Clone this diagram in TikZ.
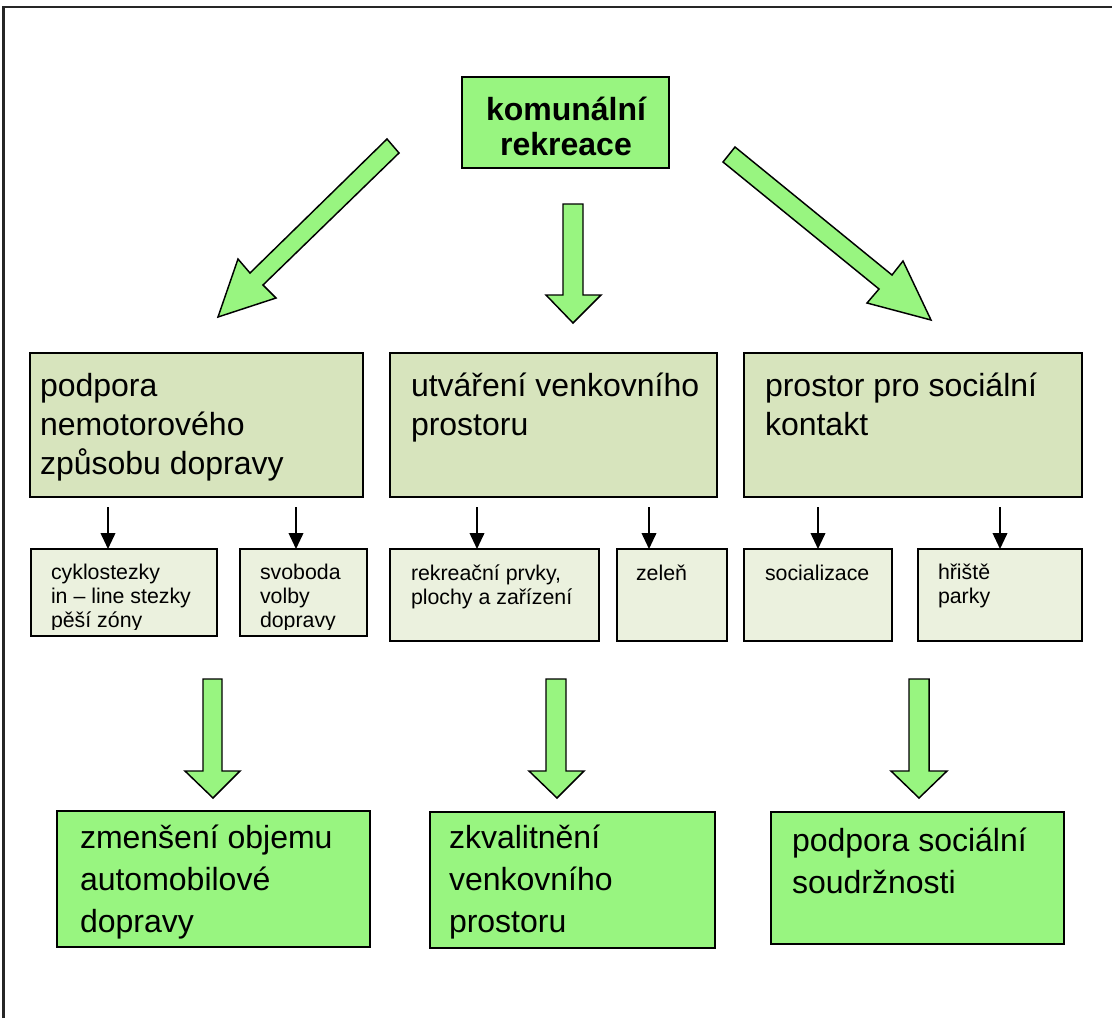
\documentclass[tikz,border=0pt]{standalone}
\usepackage{fontspec}
\setmainfont{Liberation Sans}
\usetikzlibrary{arrows.meta,fit}
\definecolor{gfill}{RGB}{152,245,128}
\definecolor{mfill}{HTML}{D7E4BD}
\definecolor{sfill}{HTML}{EBF1DE}
\tikzset{
  boxbase/.style={draw=black, line width=1.1pt, rectangle, inner sep=0pt, outer sep=0pt},
  gbox/.style={boxbase, fill=gfill},
  mbox/.style={boxbase, fill=mfill},
  sbox/.style={boxbase, fill=sfill},
  txt/.style={anchor=base west, inner sep=0pt, outer sep=0pt},
  bigtxt/.style={txt, font=\fontsize{24}{29.25}\selectfont},
  smalltxt/.style={txt, font=\fontsize{16}{18}\selectfont},
  bottxt/.style={txt, font=\fontsize{24}{31.5}\selectfont},
  sarrow/.style={draw=black, line width=1.3pt, -{Triangle[width=11pt,length=12pt]}},
  barrow/.style={draw=black, line width=1.1pt, fill=gfill, line join=miter},
  frame/.style={draw=black!85, line width=1.6pt}
}
\begin{document}
\begin{tikzpicture}[x=0.75pt,y=-0.75pt]
\useasboundingbox (0,0) rectangle (1112,1018);
% frame (cut by page edge)
\draw[frame] (3.5,1018) -- (3.5,7) -- (1112,7);

% top box
\node[gbox, fit={(462,77) (669,168)}] (tb) {};
\node[txt, anchor=base, font=\bfseries\fontsize{24}{26.25}\selectfont] (ttb) at (566,120)
  {\begin{tabular}[t]{@{}c@{}}komunální\\rekreace\end{tabular}};

% big arrows from top box
\draw[barrow] (387,139) -- (250,273) -- (238,259) -- (218,317) -- (276,298) -- (263,285) -- (399,153) -- cycle;
\draw[barrow] (563,204) -- (563,295) -- (546,295) -- (573,323) -- (601,295) -- (583,295) -- (583,204) -- cycle;
\draw[barrow] (735,147) -- (892,275) -- (903,261) -- (931,320) -- (867,303) -- (879,289) -- (723,162) -- cycle;

% middle boxes
\node[mbox, fit={(30,353) (363,497)}] (mb1) {};
\node[mbox, fit={(390,353) (717,497)}] (mb2) {};
\node[mbox, fit={(744,353) (1082,497)}] (mb3) {};
\node[bigtxt] (tmb1) at (40,396) {\begin{tabular}[t]{@{}l@{}}podpora\\nemotorového\\způsobu dopravy\end{tabular}};
\node[bigtxt] (tmb2) at (411,396) {\begin{tabular}[t]{@{}l@{}}utváření venkovního\\prostoru\end{tabular}};
\node[bigtxt] (tmb3) at (765,396) {\begin{tabular}[t]{@{}l@{}}prostor pro sociální\\kontakt\end{tabular}};

% small boxes
\node[sbox, fit={(31,549) (217,636)}] (sb1) {};
\node[sbox, fit={(240,549) (367,636)}] (sb2) {};
\node[sbox, fit={(390,549) (599,641)}] (sb3) {};
\node[sbox, fit={(617,549) (727,641)}] (sb4) {};
\node[sbox, fit={(744,549) (892,641)}] (sb5) {};
\node[sbox, fit={(918,549) (1082,641)}] (sb6) {};

\begin{scope}
  \clip (31,549) rectangle (217,629);
  \node[smalltxt] (tsb1) at (51,579) {\begin{tabular}[t]{@{}l@{}}cyklostezky\\in – line stezky\\pěší zóny\end{tabular}};
\end{scope}
\begin{scope}
  \clip (240,549) rectangle (367,629);
  \node[smalltxt] (tsb2) at (260,579) {\begin{tabular}[t]{@{}l@{}}svoboda\\volby\\dopravy\end{tabular}};
\end{scope}
\node[smalltxt] (tsb3) at (411,580) {\begin{tabular}[t]{@{}l@{}}rekreační prvky,\\plochy a zařízení\end{tabular}};
\node[smalltxt] (tsb4) at (636,580) {zeleň};
\node[smalltxt] (tsb5) at (765,580) {socializace};
\node[smalltxt] (tsb6) at (938,579) {\begin{tabular}[t]{@{}l@{}}hřiště\\parky\end{tabular}};

% small arrows
\coordinate (a1) at (108,507);
\coordinate (a2) at (296,507);
\coordinate (a3) at (477,507);
\coordinate (a4) at (649,507);
\coordinate (a5) at (818,507);
\coordinate (a6) at (1000,507);
\draw[sarrow] (a1) -- (a1 |- sb1.north);
\draw[sarrow] (a2) -- (a2 |- sb2.north);
\draw[sarrow] (a3) -- (a3 |- sb3.north);
\draw[sarrow] (a4) -- (a4 |- sb4.north);
\draw[sarrow] (a5) -- (a5 |- sb5.north);
\draw[sarrow] (a6) -- (a6 |- sb6.north);

% lower big arrows
\draw[barrow] (203,679) -- (203,771) -- (185,771) -- (213,798) -- (240,771) -- (222,771) -- (222,679) -- cycle;
\draw[barrow] (546,679) -- (546,771) -- (529,771) -- (557,798) -- (584,771) -- (566,771) -- (566,679) -- cycle;
\draw[barrow] (909,679) -- (909,771) -- (891,771) -- (919,798) -- (947,771) -- (929,771) -- (929,679) -- cycle;

% bottom boxes
\node[gbox, fit={(57,811) (370,947)}] (bb1) {};
\node[gbox, fit={(430,812) (715,948)}] (bb2) {};
\node[gbox, fit={(771,812) (1064,944)}] (bb3) {};
\node[bottxt] (tbb1) at (80,848) {\begin{tabular}[t]{@{}l@{}}zmenšení objemu\\automobilové\\dopravy\end{tabular}};
\node[bottxt] (tbb2) at (449,848) {\begin{tabular}[t]{@{}l@{}}zkvalitnění\\venkovního\\prostoru\end{tabular}};
\node[bottxt] (tbb3) at (792,851) {\begin{tabular}[t]{@{}l@{}}podpora sociální\\soudržnosti\end{tabular}};
\end{tikzpicture}
\end{document}
